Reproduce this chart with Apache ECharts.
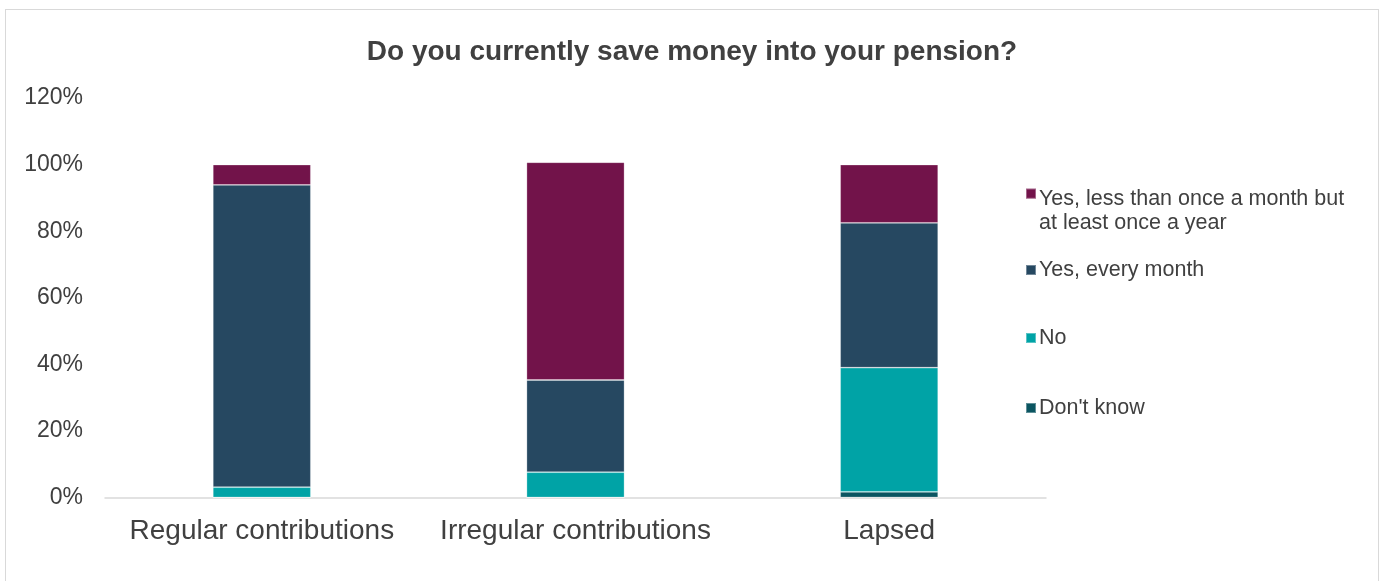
<!DOCTYPE html>
<html>
<head>
<meta charset="utf-8">
<script src="https://cdn.jsdelivr.net/npm/echarts@6/dist/echarts.min.js"></script>
<style>
  html, body { margin: 0; padding: 0; background: #fff; }
  #frame { position: absolute; left: 5px; top: 9px; width: 1374px; height: 580px; border: 1px solid #d9d9d9; box-sizing: border-box; }
  #chart { position: absolute; left: 0; top: 0; width: 1384px; height: 581px; }
</style>
</head>
<body>
<div id="frame"></div>
<div id="chart"></div>
<script>
// categories and series (percent)
const categories = ["Regular contributions", "Irregular contributions", "Lapsed"];
const dontKnow = [0, 0, 1.7];
const no = [3.1, 7.6, 37.3];
const everyMonth = [90.8, 27.7, 43.5];
const lessThanMonthly = [6.1, 65.4, 17.5];
const yTicks = [0, 20, 40, 60, 80, 100, 120];

const names = {
  less: "Yes, less than once a month but at least once a year",
  every: "Yes, every month",
  no: "No",
  dk: "Don't know"
};
const colors = { less: "#72134A", every: "#264861", no: "#00A3A6", dk: "#0B5561" };
const font = "'Liberation Sans', Arial, sans-serif";

const chart = echarts.init(document.getElementById("chart"));

function makeSeries(name, data, color) {
  return {
    name: name,
    type: "bar",
    stack: "total",
    barWidth: 98,
    data: data,
    itemStyle: { color: color, borderColor: "rgba(255,255,255,0.35)", borderWidth: 0.8 },
    emphasis: { disabled: true }
  };
}

function legendItem(name, top, tall) {
  return {
    orient: "vertical",
    left: 1020,
    top: top,
    data: [{
      name: name,
      icon: tall ? "path://M0,0h10v10h-10z M0,44h0.01v0.01h-0.01z" : "rect"
    }],
    itemWidth: 10,
    itemHeight: tall ? 45 : 10,
    symbolKeepAspect: false,
    itemGap: 0,
    selectedMode: false,
    formatter: function (n) {
      return n === names.less ? "Yes, less than once a month but\nat least once a year" : n;
    },
    textStyle: { color: "#404040", fontSize: 21.5, fontFamily: font, lineHeight: 24, padding: [0, 0, 0, -2] }
  };
}

const option = {
  animation: false,
  title: {
    text: "Do you currently save money into your pension?",
    left: "center",
    top: 33,
    textStyle: { color: "#404040", fontSize: 28, fontWeight: "bold", fontFamily: font }
  },
  legend: [
    legendItem(names.less, 182, true),
    legendItem(names.every, 253),
    legendItem(names.no, 321),
    legendItem(names.dk, 391)
  ],
  grid: { left: 105, right: 338, top: 98, bottom: 83.5, containLabel: false },
  xAxis: {
    type: "category",
    data: categories,
    axisLine: { lineStyle: { color: "#d9d9d9", width: 1.5 } },
    axisTick: { show: false },
    axisLabel: { color: "#404040", fontSize: 28, fontFamily: font, margin: 20, interval: 0, hideOverlap: false }
  },
  yAxis: {
    type: "value",
    min: 0,
    max: 120,
    interval: 20,
    splitLine: { show: false },
    axisLine: { show: false },
    axisTick: { show: false },
    axisLabel: {
      color: "#404040",
      fontSize: 23,
      fontFamily: font,
      margin: 22,
      formatter: function (v) { return yTicks.indexOf(v) >= 0 ? v + "%" : ""; }
    }
  },
  series: [
    makeSeries(names.dk, dontKnow, colors.dk),
    makeSeries(names.no, no, colors.no),
    makeSeries(names.every, everyMonth, colors.every),
    makeSeries(names.less, lessThanMonthly, colors.less)
  ]
};

chart.setOption(option);
</script>
</body>
</html>
